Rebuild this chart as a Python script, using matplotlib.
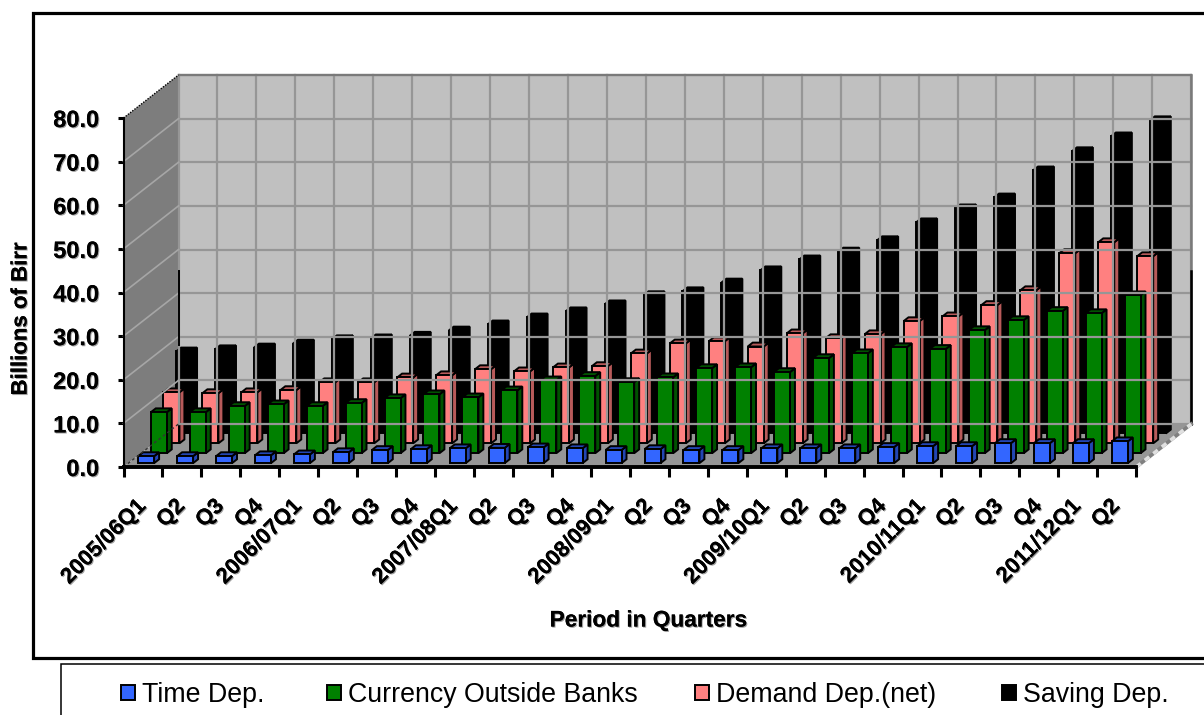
# coding: utf-8
import matplotlib
matplotlib.use("Agg")
import matplotlib.pyplot as plt
import matplotlib.patheffects as pe
from matplotlib.patches import Polygon, Rectangle

plt.rcParams["font.family"] = ["Liberation Sans", "DejaVu Sans"]

W, H = 1204, 715

quarters = ["2005/06Q1", "Q2", "Q3", "Q4", "2006/07Q1", "Q2", "Q3", "Q4",
            "2007/08Q1", "Q2", "Q3", "Q4", "2008/09Q1", "Q2", "Q3", "Q4",
            "2009/10Q1", "Q2", "Q3", "Q4", "2010/11Q1", "Q2", "Q3", "Q4",
            "2011/12Q1", "Q2"]

time_dep = [1.6, 1.6, 1.6, 1.8, 2.0, 2.5, 3.0, 3.2, 3.4, 3.5, 3.6, 3.4, 3.0,
            3.2, 3.0, 3.0, 3.4, 3.4, 3.4, 3.7, 3.9, 3.9, 4.6, 4.6, 4.6, 5.0]
currency = [9.4, 9.4, 10.8, 11.2, 10.8, 11.5, 12.6, 13.5, 12.8, 14.4, 16.7, 17.7, 16.3,
            17.4, 19.5, 19.7, 18.6, 21.8, 22.9, 24.3, 23.9, 28.2, 30.5, 32.6, 32.1, 36.2]
demand = [11.7, 11.5, 11.7, 12.2, 14.0, 14.0, 15.1, 15.6, 17.0, 16.5, 17.4, 17.7, 20.6,
          22.9, 23.4, 22.2, 25.2, 24.1, 25.0, 28.0, 29.1, 31.7, 35.1, 43.6, 46.1, 42.9]
saving = [18.8, 19.3, 19.7, 20.6, 21.6, 21.8, 22.4, 23.6, 25.0, 26.6, 28.0, 29.6, 31.7,
          32.6, 34.6, 37.4, 39.9, 41.7, 44.3, 48.4, 51.6, 54.1, 60.3, 64.7, 68.1, 71.8]

series_names = ["Time Dep.", "Currency Outside Banks", "Demand Dep.(net)", "Saving Dep."]
y_ticks = [0, 10, 20, 30, 40, 50, 60, 70, 80]

# face, side/top shade for each series
face_colors = ["#3366ff", "#008000", "#ff8080", "#000000"]
shade_colors = ["#2346b4", "#005200", "#b85a5a", "#000000"]

# oblique projection: how far the back of the box shifts, in data units
CAT_PX = 38.95
DX = 55 / CAT_PX
DY = 43 / 4.3625
row_depths = [0.09, 0.32, 0.55, 0.78]
bar_depth = 0.09
bar_offset = 0.25
bar_width = 0.41


def proj(x, y, d=0.0):
    return (x + d * DX, y + d * DY)


def px_rect(x0, y0, x1, y1, **kwargs):
    """Rectangle given in pixels from the top left corner."""
    return Rectangle((x0 / W, 1 - y1 / H), (x1 - x0) / W, (y1 - y0) / H,
                     transform=fig.transFigure, **kwargs)


def draw_bar(ax, i, value, d, face, shade):
    x0 = i + bar_offset
    x1 = x0 + bar_width
    d1 = d + bar_depth
    style = dict(edgecolor="black", linewidth=1.4, joinstyle="miter", clip_on=False)
    ax.add_patch(Polygon([proj(x1, 0, d), proj(x1, 0, d1), proj(x1, value, d1), proj(x1, value, d)],
                         facecolor=shade, **style))
    ax.add_patch(Polygon([proj(x0, value, d), proj(x1, value, d), proj(x1, value, d1), proj(x0, value, d1)],
                         facecolor=shade, **style))
    ax.add_patch(Polygon([proj(x0, 0, d), proj(x1, 0, d), proj(x1, value, d), proj(x0, value, d)],
                         facecolor=face, **style))


def draw_walls(ax, n):
    top = y_ticks[-1]
    ax.add_patch(Polygon([proj(0, 0, 1), proj(n, 0, 1), proj(n, top, 1), proj(0, top, 1)],
                         facecolor="#c0c0c0", edgecolor="none", clip_on=False))
    ax.add_patch(Polygon([proj(0, 0), proj(0, 0, 1), proj(0, top, 1), proj(0, top)],
                         facecolor="#7d7d7d", edgecolor="none", clip_on=False))
    ax.add_patch(Polygon([proj(0, 0), proj(n, 0), proj(n, 0, 1), proj(0, 0, 1)],
                         facecolor="#969696", edgecolor="none", clip_on=False))
    for i in range(n + 1):
        ax.plot(*zip(proj(i, 0, 1), proj(i, top, 1)), color="#969696", lw=1.6, clip_on=False)
    for v in y_ticks:
        ax.plot(*zip(proj(0, v, 1), proj(n, v, 1)), color="#969696", lw=1.6, clip_on=False)
        if 0 < v < top:
            ax.plot(*zip(proj(0, v), proj(0, v, 1)), color="#a6a6a6", lw=1.2, clip_on=False)
    # darker top and right rim of the back wall
    ax.plot(*zip(proj(0, top, 1), proj(n, top, 1)), color="#7a7a7a", lw=1.6, clip_on=False)
    ax.plot(*zip(proj(n, 0, 1), proj(n, top, 1)), color="#7a7a7a", lw=1.8, clip_on=False)
    ax.plot(*zip(proj(n, 0, 1), proj(n, 35, 1)), color="black", lw=1.8, clip_on=False)
    ax.plot(*zip(proj(0, 18, 1), proj(0, 35, 1)), color="black", lw=1.4, clip_on=False)
    # dotted edges of the side wall and hatched floor edge
    ax.plot(*zip(proj(0, top), proj(0, top, 1)), color="black", lw=1.0, ls=(0, (1, 1)), clip_on=False)
    ax.plot(*zip(proj(0, 0), proj(0, 0, 1)), color="#333333", lw=1.0, ls=(0, (2, 2)), clip_on=False)
    ax.plot(*zip(proj(n, 0), proj(n, 0, 1)), color="#808080", lw=2.6, clip_on=False)
    ax.plot(*zip(proj(n, 0), proj(n, 0, 1)), color="#e0e0e0", lw=2.6, ls=(0, (1.6, 1.4)), clip_on=False)


fig = plt.figure(figsize=(W / 100, H / 100), dpi=100, facecolor="white")
fig.patches.append(px_rect(33, 15, W + 20, 660, facecolor="#9a9a9a", edgecolor="none"))
fig.patches.append(px_rect(33, 13, W + 20, 658, facecolor="white", edgecolor="black", linewidth=2.3))
fig.patches.append(px_rect(61, 664, W + 20, H + 20, facecolor="white", edgecolor="black", linewidth=1.1))

n = len(quarters)
ax = fig.add_axes([123.5 / W, 1 - 467 / H, CAT_PX * n / W, (467 - 118) / H])
ax.set_zorder(5)
ax.set_xlim(0, n)
ax.set_ylim(y_ticks[0], y_ticks[-1])
ax.patch.set_visible(False)

draw_walls(ax, n)

series = [time_dep, currency, demand, saving]
for row in [3, 2, 1, 0]:
    for i, value in enumerate(series[row]):
        draw_bar(ax, i, value, row_depths[row], face_colors[row], shade_colors[row])

for side in ["top", "right"]:
    ax.spines[side].set_visible(False)
ax.spines["left"].set_linewidth(1.5)
ax.spines["bottom"].set_linewidth(2.8)
ax.spines["left"].set_zorder(20)
ax.spines["bottom"].set_zorder(20)

shadow = [pe.withSimplePatchShadow(offset=(0.8, -0.8), shadow_rgbFace="#777777", alpha=0.7), pe.Normal()]

ax.set_yticks(y_ticks)
ax.set_yticklabels(["%.1f" % v for v in y_ticks], fontsize=17, fontweight="bold", path_effects=shadow)
ax.tick_params(axis="y", length=4.5, width=2.2, pad=13)

ax.set_xticks(range(n + 1))
ax.set_xticklabels([])
ax.tick_params(axis="x", which="major", length=7, width=2.2)
ax.set_xticks([i + 0.5 for i in range(n)], minor=True)
ax.set_xticklabels(quarters, minor=True, rotation=45, ha="right", va="center", rotation_mode="anchor",
                   fontsize=16, fontweight="bold", path_effects=shadow)
ax.tick_params(axis="x", which="minor", length=0, pad=26)

fig.text(648 / W, 1 - 620 / H, "Period in Quarters", fontsize=16.3, fontweight="bold",
         ha="center", va="center", path_effects=shadow)
fig.text(21 / W, 1 - 319 / H, "Billions of Birr", fontsize=16, fontweight="bold",
         rotation=90, ha="center", va="center", path_effects=shadow)

legend_x = [121, 327, 695, 1002]
for x, name, color in zip(legend_x, series_names, face_colors):
    fig.patches.append(px_rect(x, 685, x + 14, 700, facecolor=color, edgecolor="black", linewidth=1.4))
    fig.text((x + 21) / W, 1 - 695 / H, name, fontsize=19.3, ha="left", va="center")

fig.savefig("out.png", dpi=100)
